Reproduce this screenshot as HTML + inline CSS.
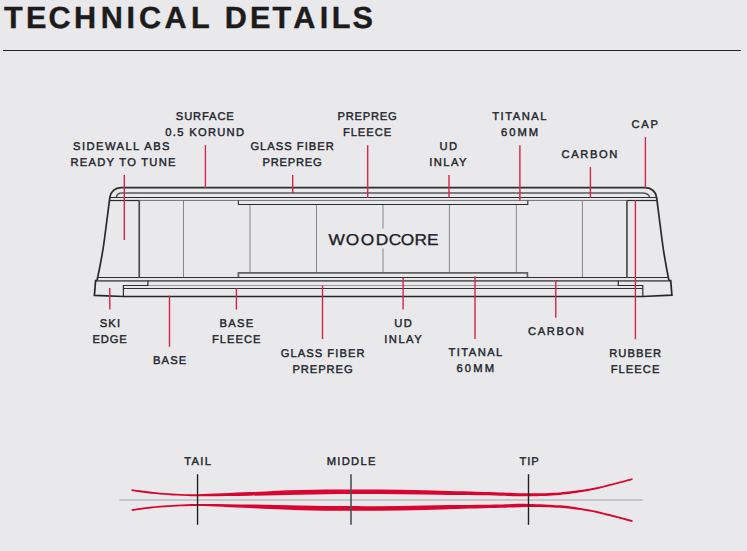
<!DOCTYPE html>
<html lang="en">
<head>
<meta charset="utf-8">
<title>Technical Details</title>
<style>
html,body{margin:0;padding:0;background:#e9e9eb;}
body{width:747px;height:551px;overflow:hidden;}
svg{display:block;font-family:"Liberation Sans",sans-serif;text-rendering:geometricPrecision;}
text{white-space:pre;}
</style>
</head>
<body>
<svg width="747" height="551" viewBox="0 0 747 551">
<rect width="747" height="551" fill="#e9e9eb"/>

<!-- title -->
<text transform="translate(0,27.80) scale(1.0,1)" x="4.03 26.03 48.60 74.05 100.85 126.45 139.10 164.50 191.03 207.90 224.77 249.98 272.58 293.15 319.80 331.73 352.59" y="0" font-size="30.6" font-weight="bold" fill="#1c1c1c" stroke="#1c1c1c" stroke-width="0.4">TECHNICAL DETAILS</text>
<line x1="3" y1="50.5" x2="740.9" y2="50.5" stroke="#242426" stroke-width="1.05"/>
<!-- cross section -->
<g fill="none" stroke-linecap="butt" stroke-linejoin="miter">
<line x1="183.5" y1="200.4" x2="183.5" y2="277.5" stroke="#858688" stroke-width="1.0"/>
<line x1="250.0" y1="204.5" x2="250.0" y2="273.0" stroke="#858688" stroke-width="1.0"/>
<line x1="316.5" y1="204.5" x2="316.5" y2="273.0" stroke="#858688" stroke-width="1.0"/>
<path d="M383.0,204.5V228.6M383.0,248.6V273.0" stroke="#a0a1a3" stroke-width="1.4"/>
<line x1="449.4" y1="204.5" x2="449.4" y2="273.0" stroke="#858688" stroke-width="1.0"/>
<line x1="516.3" y1="204.5" x2="516.3" y2="273.0" stroke="#858688" stroke-width="1.0"/>
<line x1="582.4" y1="200.4" x2="582.4" y2="277.5" stroke="#858688" stroke-width="1.0"/>
<line x1="139.4" y1="200.4" x2="626.8" y2="200.4" stroke="#6c6e70" stroke-width="1.0"/>
<line x1="147.9" y1="285.5" x2="618.3" y2="285.5" stroke="#98999b" stroke-width="1.0"/>
<path d="M116.4,197.4 C116.6,194.4 118.6,192.9 122.0,192.9 H642.2 C646.5,192.9 649.0,194.4 649.7,197.4" stroke="#56585a" stroke-width="1.5"/>
<line x1="95.6" y1="280.8" x2="670.6" y2="280.8" stroke="#606264" stroke-width="1.7"/>
<path d="M238.4,200.4 V204.5 H527.8 V200.4" stroke="#2b2d2f" stroke-width="1.1"/>
<path d="M238.4,277.5 V272.9 H527.4 V277.5" stroke="#606264" stroke-width="1.7"/>
<line x1="109.8" y1="197.5" x2="656.4" y2="197.5" stroke="#2b2d2f" stroke-width="1.1"/>
<line x1="109.6" y1="200.5" x2="139.4" y2="200.5" stroke="#2b2d2f" stroke-width="1.2"/>
<line x1="626.8" y1="200.5" x2="656.6" y2="200.5" stroke="#2b2d2f" stroke-width="1.2"/>
<line x1="97.3" y1="277.5" x2="668.9" y2="277.5" stroke="#2b2d2f" stroke-width="1.15"/>
<line x1="123.4" y1="288.5" x2="642.8" y2="288.5" stroke="#303234" stroke-width="1.05"/>
<line x1="139.25" y1="200.4" x2="139.25" y2="277.5" stroke="#4a4c4e" stroke-width="1.7"/>
<line x1="626.95" y1="200.4" x2="626.95" y2="277.5" stroke="#4a4c4e" stroke-width="1.7"/>
<path d="M147.9,280.7 V285.5 H123.4 V296.5" stroke="#2b2d2f" stroke-width="1.2"/>
<path d="M618.3,280.7 V285.5 H642.8 V296.5" stroke="#2b2d2f" stroke-width="1.2"/>
<path d="M97.1,280.3 Q102.5,255 104.6,238 L109.85,197.3 A11,11 0 0 1 120.8,187.6 H645.6 A11.3,10.6 0 0 1 656.6,197.3 L661.8,238 Q663.8,255 668.9,280.3" stroke="#2b2d2f" stroke-width="1.75"/>
<path d="M97.1,280.5 H95.6 L94.4,295.4 L123.4,296.5 H642.6 L671.9,295.2 L670.7,280.5 H668.9" stroke="#232527" stroke-width="1.7"/>
</g>
<!-- leader lines -->
<g stroke="#d82449" stroke-width="1.4" fill="none">
<line x1="124.3" y1="175.1" x2="124.3" y2="239.9"/>
<line x1="205.4" y1="145.2" x2="205.4" y2="188.0"/>
<line x1="292.7" y1="175.1" x2="292.7" y2="193.2"/>
<line x1="367.7" y1="145.2" x2="367.7" y2="197.9"/>
<line x1="449.0" y1="175.1" x2="449.0" y2="197.5"/>
<line x1="519.9" y1="145.2" x2="519.9" y2="200.7"/>
<line x1="590.4" y1="167.1" x2="590.4" y2="197.5"/>
<line x1="645.4" y1="137.1" x2="645.4" y2="188.2"/>
<line x1="635.4" y1="199.9" x2="635.4" y2="339.2"/>
<line x1="109.8" y1="287.9" x2="109.8" y2="309.6"/>
<line x1="169.5" y1="295.6" x2="169.5" y2="346.8"/>
<line x1="236.4" y1="288.2" x2="236.4" y2="309.6"/>
<line x1="322.5" y1="285.5" x2="322.5" y2="339.1"/>
<line x1="403.1" y1="277.5" x2="403.1" y2="309.6"/>
<line x1="475.0" y1="276.3" x2="475.0" y2="339.1"/>
<line x1="555.8" y1="280.7" x2="555.8" y2="317.7"/>
</g>
<!-- labels -->
<g>
<text x="73.05" y="150.00" font-size="11.2" font-weight="normal" letter-spacing="1.443" fill="#21242b" stroke="#21242b" stroke-width="0.4">SIDEWALL ABS</text>
<text x="70.48" y="166.00" font-size="11.2" font-weight="normal" letter-spacing="1.256" fill="#21242b" stroke="#21242b" stroke-width="0.4">READY TO TUNE</text>
<text x="175.85" y="120.00" font-size="11.2" font-weight="normal" letter-spacing="0.854" fill="#21242b" stroke="#21242b" stroke-width="0.4">SURFACE</text>
<text x="165.35" y="136.00" font-size="11.2" font-weight="normal" letter-spacing="1.286" fill="#21242b" stroke="#21242b" stroke-width="0.4">0.5 KORUND</text>
<text x="250.43" y="150.00" font-size="11.2" font-weight="normal" letter-spacing="0.998" fill="#21242b" stroke="#21242b" stroke-width="0.4">GLASS FIBER</text>
<text x="262.57" y="166.00" font-size="11.2" font-weight="normal" letter-spacing="0.733" fill="#21242b" stroke="#21242b" stroke-width="0.4">PREPREG</text>
<text x="337.47" y="120.00" font-size="11.2" font-weight="normal" letter-spacing="0.767" fill="#21242b" stroke="#21242b" stroke-width="0.4">PREPREG</text>
<text x="342.88" y="136.00" font-size="11.2" font-weight="normal" letter-spacing="0.955" fill="#21242b" stroke="#21242b" stroke-width="0.4">FLEECE</text>
<text x="439.38" y="150.00" font-size="11.2" font-weight="normal" letter-spacing="1.650" fill="#21242b" stroke="#21242b" stroke-width="0.4">UD</text>
<text x="429.15" y="166.00" font-size="11.2" font-weight="normal" letter-spacing="1.463" fill="#21242b" stroke="#21242b" stroke-width="0.4">INLAY</text>
<text x="492.20" y="120.00" font-size="11.2" font-weight="normal" letter-spacing="1.517" fill="#21242b" stroke="#21242b" stroke-width="0.4">TITANAL</text>
<text x="500.92" y="136.00" font-size="11.2" font-weight="normal" letter-spacing="2.067" fill="#21242b" stroke="#21242b" stroke-width="0.4">60MM</text>
<text x="561.52" y="158.00" font-size="11.2" font-weight="normal" letter-spacing="1.605" fill="#21242b" stroke="#21242b" stroke-width="0.4">CARBON</text>
<text x="631.62" y="128.00" font-size="11.2" font-weight="normal" letter-spacing="1.625" fill="#21242b" stroke="#21242b" stroke-width="0.4">CAP</text>
<text x="99.75" y="327.00" font-size="11.2" font-weight="normal" letter-spacing="1.150" fill="#21242b" stroke="#21242b" stroke-width="0.4">SKI</text>
<text x="92.48" y="343.00" font-size="11.2" font-weight="normal" letter-spacing="0.842" fill="#21242b" stroke="#21242b" stroke-width="0.4">EDGE</text>
<text x="152.97" y="364.00" font-size="11.2" font-weight="normal" letter-spacing="1.133" fill="#21242b" stroke="#21242b" stroke-width="0.4">BASE</text>
<text x="219.58" y="327.00" font-size="11.2" font-weight="normal" letter-spacing="1.233" fill="#21242b" stroke="#21242b" stroke-width="0.4">BASE</text>
<text x="211.88" y="343.00" font-size="11.2" font-weight="normal" letter-spacing="1.015" fill="#21242b" stroke="#21242b" stroke-width="0.4">FLEECE</text>
<text x="280.72" y="357.00" font-size="11.2" font-weight="normal" letter-spacing="1.038" fill="#21242b" stroke="#21242b" stroke-width="0.4">GLASS FIBER</text>
<text x="292.47" y="373.00" font-size="11.2" font-weight="normal" letter-spacing="0.900" fill="#21242b" stroke="#21242b" stroke-width="0.4">PREPREG</text>
<text x="394.27" y="327.00" font-size="11.2" font-weight="normal" letter-spacing="1.350" fill="#21242b" stroke="#21242b" stroke-width="0.4">UD</text>
<text x="384.25" y="343.00" font-size="11.2" font-weight="normal" letter-spacing="1.488" fill="#21242b" stroke="#21242b" stroke-width="0.4">INLAY</text>
<text x="448.60" y="356.00" font-size="11.2" font-weight="normal" letter-spacing="1.417" fill="#21242b" stroke="#21242b" stroke-width="0.4">TITANAL</text>
<text x="456.52" y="372.00" font-size="11.2" font-weight="normal" letter-spacing="2.133" fill="#21242b" stroke="#21242b" stroke-width="0.4">60MM</text>
<text x="528.02" y="335.00" font-size="11.2" font-weight="normal" letter-spacing="1.605" fill="#21242b" stroke="#21242b" stroke-width="0.4">CARBON</text>
<text x="609.17" y="357.00" font-size="11.2" font-weight="normal" letter-spacing="1.055" fill="#21242b" stroke="#21242b" stroke-width="0.4">RUBBER</text>
<text x="610.77" y="373.00" font-size="11.2" font-weight="normal" letter-spacing="1.015" fill="#21242b" stroke="#21242b" stroke-width="0.4">FLEECE</text>
<text x="184.20" y="465.00" font-size="11.2" font-weight="normal" letter-spacing="1.292" fill="#21242b" stroke="#21242b" stroke-width="0.4">TAIL</text>
<text x="326.67" y="465.00" font-size="11.2" font-weight="normal" letter-spacing="1.305" fill="#21242b" stroke="#21242b" stroke-width="0.4">MIDDLE</text>
<text x="519.60" y="465.00" font-size="11.2" font-weight="normal" letter-spacing="0.850" fill="#21242b" stroke="#21242b" stroke-width="0.4">TIP</text>
<text transform="translate(0,244.90) scale(1.11,1)" x="295.91 311.55 325.06 338.45 350.30 361.14 373.36 384.77" y="0" font-size="15.6" font-weight="normal" fill="#1e2127" stroke="#1e2127" stroke-width="0.33">WOODCORE</text>
</g>
<!-- ski profile -->
<line x1="119.3" y1="500.05" x2="642.6" y2="500.05" stroke="#c7c7cb" stroke-width="1.9"/>
<path d="M131.6,489.30 C136.3,489.87 149.0,491.88 160.0,492.70 C171.0,493.52 182.5,494.30 197.5,494.20 C212.5,494.10 232.9,492.80 250.0,492.10 C267.1,491.40 283.2,490.43 300.0,490.00 C316.8,489.57 334.3,489.53 351.0,489.50 C367.7,489.47 383.5,489.55 400.0,489.80 C416.5,490.05 433.3,490.57 450.0,491.00 C466.7,491.43 486.9,492.02 500.0,492.40 C513.1,492.78 518.5,493.30 528.5,493.30 C538.5,493.30 551.4,492.93 560.0,492.40 C568.6,491.87 573.3,491.08 580.0,490.10 C586.7,489.12 591.2,488.48 600.0,486.50 C608.8,484.52 627.1,479.58 632.5,478.20 L632.5,480.00 C627.1,481.40 608.8,486.35 600.0,488.40 C591.2,490.45 586.7,491.22 580.0,492.30 C573.3,493.38 568.6,494.23 560.0,494.90 C551.4,495.57 538.5,496.15 528.5,496.30 C518.5,496.45 513.1,496.00 500.0,495.80 C486.9,495.60 466.7,495.35 450.0,495.10 C433.3,494.85 416.5,494.47 400.0,494.30 C383.5,494.13 367.7,494.02 351.0,494.10 C334.3,494.18 316.8,494.53 300.0,494.80 C283.2,495.07 267.1,495.47 250.0,495.70 C232.9,495.93 212.5,496.42 197.5,496.20 C182.5,495.98 171.0,495.28 160.0,494.40 C149.0,493.52 136.3,491.48 131.6,490.90 Z" fill="#d9042f"/>
<path d="M131.6,510.90 C136.3,510.33 149.0,508.32 160.0,507.50 C171.0,506.68 182.5,505.90 197.5,506.00 C212.5,506.10 232.9,507.40 250.0,508.10 C267.1,508.80 283.2,509.77 300.0,510.20 C316.8,510.63 334.3,510.67 351.0,510.70 C367.7,510.73 383.5,510.65 400.0,510.40 C416.5,510.15 433.3,509.63 450.0,509.20 C466.7,508.77 486.9,508.18 500.0,507.80 C513.1,507.42 518.5,506.90 528.5,506.90 C538.5,506.90 551.4,507.27 560.0,507.80 C568.6,508.33 573.3,509.12 580.0,510.10 C586.7,511.08 591.2,511.72 600.0,513.70 C608.8,515.68 627.1,520.62 632.5,522.00 L632.5,520.20 C627.1,518.80 608.8,513.85 600.0,511.80 C591.2,509.75 586.7,508.98 580.0,507.90 C573.3,506.82 568.6,505.97 560.0,505.30 C551.4,504.63 538.5,504.05 528.5,503.90 C518.5,503.75 513.1,504.20 500.0,504.40 C486.9,504.60 466.7,504.85 450.0,505.10 C433.3,505.35 416.5,505.73 400.0,505.90 C383.5,506.07 367.7,506.18 351.0,506.10 C334.3,506.02 316.8,505.67 300.0,505.40 C283.2,505.13 267.1,504.73 250.0,504.50 C232.9,504.27 212.5,503.78 197.5,504.00 C182.5,504.22 171.0,504.92 160.0,505.80 C149.0,506.68 136.3,508.72 131.6,509.30 Z" fill="#d9042f"/>
<line x1="197.55" y1="474.2" x2="197.55" y2="524.8" stroke="#1c1c1e" stroke-width="1.35"/>
<line x1="351.0" y1="474.2" x2="351.0" y2="524.8" stroke="#505153" stroke-width="1.6"/>
<line x1="528.5" y1="474.2" x2="528.5" y2="524.8" stroke="#242426" stroke-width="1.4"/>
</svg>
</body>
</html>
